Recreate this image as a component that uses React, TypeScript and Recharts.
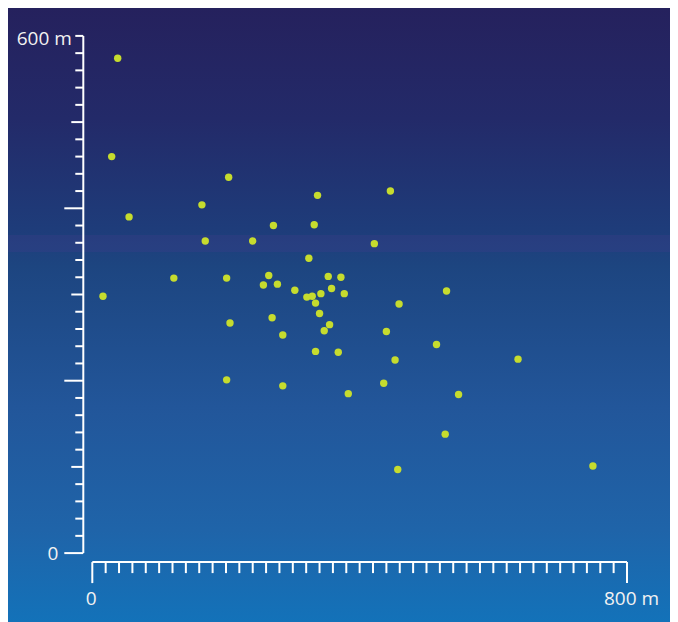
import React from "react";
import { ScatterChart, Scatter, XAxis, YAxis } from "recharts";

// distance east (m) and distance north (m) of each point
const distX = [
  38, 29, 55, 16, 122, 204, 164, 169, 201, 206, 201, 240, 271, 264, 256, 277,
  303, 269, 285, 285, 337, 332, 324, 321, 329, 334, 342, 340, 347, 355, 353,
  358, 372, 377, 334, 368, 383, 422, 446, 459, 440, 453, 436, 457, 530, 515,
  548, 528, 637, 749,
];
const distY = [
  574, 460, 390, 298, 319, 436, 404, 362, 319, 267, 201, 362, 380, 322, 311,
  312, 305, 273, 253, 194, 415, 381, 342, 297, 298, 290, 301, 278, 258, 265,
  321, 307, 320, 301, 234, 233, 185, 359, 420, 289, 257, 224, 197, 97, 304,
  242, 184, 138, 225, 101,
];

const xTicks = [
  0, 20, 40, 60, 80, 100, 120, 140, 160, 180, 200, 220, 240, 260, 280, 300,
  320, 340, 360, 380, 400, 420, 440, 460, 480, 500, 520, 540, 560, 580, 600,
  620, 640, 660, 680, 700, 720, 740, 760, 780, 800,
];
const yTicks = [
  0, 20, 40, 60, 80, 100, 120, 140, 160, 180, 200, 220, 240, 260, 280, 300,
  320, 340, 360, 380, 400, 420, 440, 460, 480, 500, 520, 540, 560, 580, 600,
];

const points = distX.map((x, i) => ({ x, y: distY[i] }));

const FONT = "'Open Sans', sans-serif";
const GAP = 9; // axes sit a little away from the plot

const YTick = (props: any) => {
  const { x, y, payload } = props;
  const v = payload.value;
  const ax = x - GAP;
  let len = 8;
  if (v !== 600 && v % 200 === 0) len = 19;
  else if (v !== 600 && v % 100 === 0) len = 12;
  return (
    <g>
      <line x1={ax - len} x2={ax} y1={y} y2={y} stroke="#fff" strokeWidth={2} />
      {v === 600 && (
        <text x={ax - 11.5} y={y + 2} textAnchor="end" dominantBaseline="central"
          fill="#f2f2f2" fontSize={19} fontFamily={FONT}>600 m</text>
      )}
      {v === 0 && (
        <text x={ax - 25} y={y} textAnchor="end" dominantBaseline="central"
          fill="#f2f2f2" fontSize={19} fontFamily={FONT}>0</text>
      )}
    </g>
  );
};

const XTick = (props: any) => {
  const { x, y, payload } = props;
  const v = payload.value;
  const ay = y + GAP;
  const len = v === 0 || v === 800 ? 21 : 11;
  return (
    <g>
      <line x1={x} x2={x} y1={ay} y2={ay + len} stroke="#fff" strokeWidth={2} />
      {v === 0 && (
        <text x={x - 1} y={ay + 36} textAnchor="middle" dominantBaseline="central"
          fill="#f2f2f2" fontSize={19} fontFamily={FONT}>0</text>
      )}
      {v === 800 && (
        <text x={x + 4.5} y={ay + 36} textAnchor="middle" dominantBaseline="central"
          fill="#f2f2f2" fontSize={19} fontFamily={FONT}>800 m</text>
      )}
    </g>
  );
};

export default function App() {
  return (
    <div
      style={{
        position: "relative",
        width: 671,
        height: 614,
        marginLeft: -1,
        background:
          "linear-gradient(to bottom, #25215d 0%, #232a69 18%, #1e3c7a 36%, #1d4580 42%, #22569a 65%, #1f64a9 85%, #1372b9 100%)",
      }}
    >
      <div
        style={{
          position: "absolute",
          left: 0,
          top: 227,
          width: 671,
          height: 17,
          background: "rgba(70, 60, 140, 0.28)",
        }}
      />
      <div style={{ position: "absolute", left: 0, top: 0 }}>
        <ScatterChart
          width={671}
          height={614}
          margin={{ top: 27.9, right: 51, bottom: 8.9, left: 5.3 }}
        >
          <XAxis
            type="number"
            dataKey="x"
            domain={[0, 800]}
            ticks={xTicks}
            interval={0}
            height={60}
            tickSize={0}
            tickMargin={0}
            tickLine={false}
            axisLine={{ stroke: "#fff", strokeWidth: 2, transform: `translate(0,${GAP})` }}
            tick={<XTick />}
          />
          <YAxis
            type="number"
            dataKey="y"
            domain={[0, 600]}
            ticks={yTicks}
            interval={0}
            width={80}
            tickSize={0}
            tickMargin={0}
            tickLine={false}
            axisLine={{ stroke: "#fff", strokeWidth: 2, transform: `translate(-${GAP},0)` }}
            tick={<YTick />}
          />
          <Scatter
            data={points}
            isAnimationActive={false}
            shape={(p: any) => <circle cx={p.cx} cy={p.cy} r={3.7} fill="#c6dc2e" />}
          />
        </ScatterChart>
      </div>
    </div>
  );
}
